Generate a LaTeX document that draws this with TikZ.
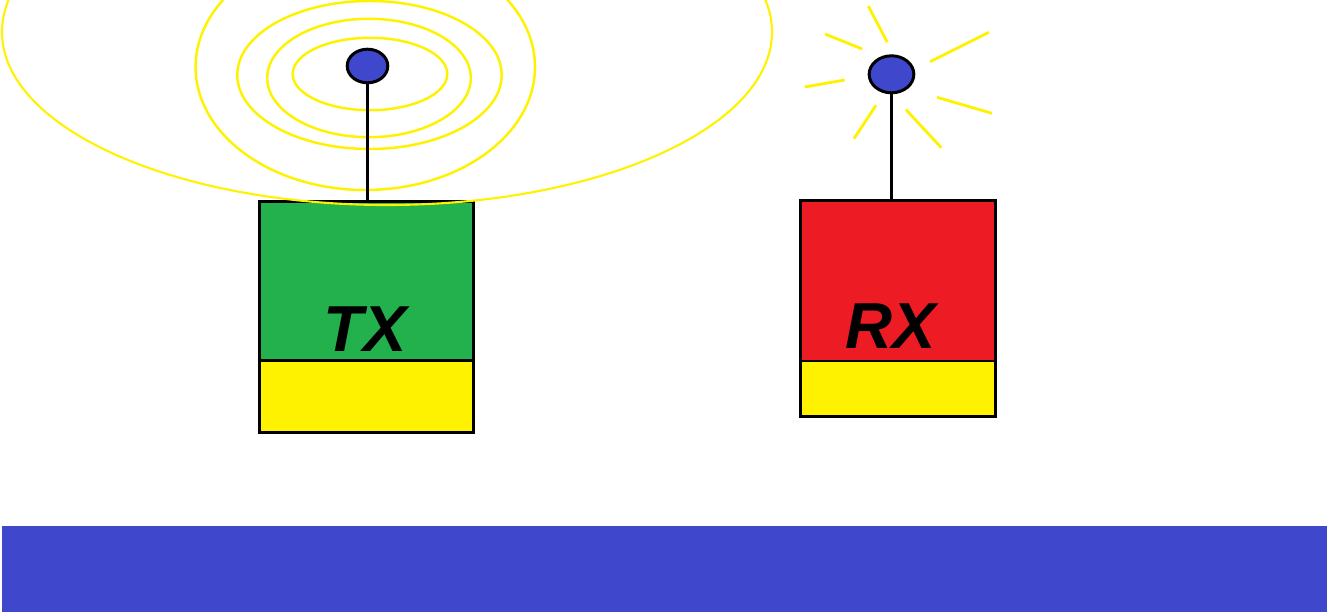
\documentclass[tikz,border=0pt]{standalone}
\usepackage{fontspec}
\setmainfont{Liberation Sans}
\usepackage{xcolor}
\usepackage{tikz}
\usetikzlibrary{positioning,shapes.geometric}
\definecolor{TxGreen}{HTML}{22B14C}
\definecolor{RxRed}{HTML}{ED1C24}
\definecolor{CellYellow}{HTML}{FFF200}
\definecolor{BallBlue}{HTML}{3F48CC}

\begin{document}
\begin{tikzpicture}[
  box/.style={draw=black,line width=0.85pt,outer sep=0pt,inner sep=0pt},
  ball/.style={ellipse,draw=black,line width=0.85pt,fill=BallBlue,inner sep=0pt,outer sep=0pt},
  tag/.style={font=\fontsize{18.5}{20}\selectfont\bfseries\itshape,inner sep=0pt,anchor=base},
  wave/.style={draw=CellYellow,line width=0.7pt},
  ray/.style={draw=CellYellow,line width=0.8pt},
  mast/.style={draw=black,line width=0.85pt}
]
\useasboundingbox (0,0) rectangle (13.27,-6.12);
\clip (0,0) rectangle (13.27,-6.12);

% ground
\fill[BallBlue] (0.02,-5.26) rectangle (13.27,-6.12);

% transmitter
\node[box,fill=TxGreen,minimum width=2.145cm,minimum height=1.59cm] (txbody) at (3.665,-2.81) {};
\node[box,fill=CellYellow,minimum width=2.145cm,minimum height=0.723cm,below=0pt of txbody] (txbase) {};
\node[tag] (txlabel) at (3.65,-3.51) {TX};

\draw[wave] (3.70,-0.74) ellipse [x radius=0.773cm,y radius=0.362cm];
\draw[wave] (3.69,-0.78) ellipse [x radius=1.018cm,y radius=0.592cm];
\draw[wave] (3.695,-0.75) ellipse [x radius=1.322cm,y radius=0.74cm];
\draw[wave] (3.653,-0.67) ellipse [x radius=1.697cm,y radius=1.23cm];
\draw[wave,line width=0.6pt] (3.87,-0.32) ellipse [x radius=3.85cm,y radius=1.73cm];

\node[ball,minimum width=0.406cm,minimum height=0.336cm] (txball) at (3.675,-0.66) {};
\draw[mast] (txball.south) -- (txball.south |- txbody.north);

% receiver
\node[box,fill=RxRed,minimum width=1.954cm,minimum height=1.603cm] (rxbody) at (8.98,-2.8085) {};
\node[box,fill=CellYellow,minimum width=1.954cm,minimum height=0.557cm,below=0pt of rxbody] (rxbase) {};
\node[tag] (rxlabel) at (8.91,-3.483) {RX};

\node[ball,minimum width=0.447cm,minimum height=0.37cm] (rxball) at (8.915,-0.743) {};
\draw[mast] (rxball.south) -- (rxball.south |- rxbody.north);

\draw[ray] (8.683,-0.06) -- (8.873,-0.423);
\draw[ray] (8.25,-0.34) -- (8.623,-0.49);
\draw[ray] (8.047,-0.87) -- (8.447,-0.80);
\draw[ray] (8.54,-1.387) -- (8.76,-1.053);
\draw[ray] (9.06,-1.097) -- (9.413,-1.477);
\draw[ray] (9.37,-0.973) -- (9.92,-1.133);
\draw[ray] (9.30,-0.617) -- (9.89,-0.323);
\end{tikzpicture}
\end{document}
